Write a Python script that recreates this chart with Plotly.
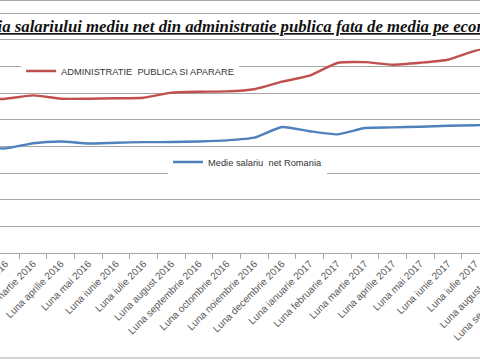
import plotly.graph_objects as go

months = ["Luna ianuarie 2016", "Luna februarie 2016", "Luna martie 2016", "Luna aprilie 2016",
          "Luna mai 2016", "Luna iunie 2016", "Luna iulie 2016", "Luna august 2016",
          "Luna septembrie 2016", "Luna octombrie 2016", "Luna noiembrie 2016", "Luna decembrie 2016",
          "Luna ianuarie 2017", "Luna februarie 2017", "Luna martie 2017", "Luna aprilie 2017",
          "Luna mai 2017", "Luna iunie 2017", "Luna iulie 2017", "Luna august 2017"]
# category labels beyond the cropped right edge (only partly visible)
cut_labels = ["Luna august 2017", "Luna septembrie 2017"]
cut_label_index = [19, 20]

admin_publica = [2865, 2893, 2955, 2893, 2893, 2901, 2912, 3006, 3024, 3030, 3071, 3212,
                 3324, 3563, 3578, 3531, 3568, 3624, 3793, 3906]
medie_romania = [1984, 1961, 2059, 2091, 2053, 2068, 2078, 2081, 2091, 2111, 2162, 2363,
                 2284, 2224, 2344, 2355, 2368, 2387, 2396, 2406]

name_admin = "ADMINISTRATIE\u00a0 PUBLICA SI APARARE"
name_medie = "Medie salariu\u00a0 net Romania"
title_text = "Evolutia salariului mediu net din administratie publica fata de media pe economie"

# visible window of the category axis (chart is cropped on both sides)
x_range = [0.801, 18.163]
y_range = [0, 4725]

grid = "#a6a6a6"
tick_font = dict(family="Liberation Sans", size=10, color="#595959")

fig = go.Figure()
fig.add_trace(go.Scatter(x=months, y=admin_publica, name=name_admin, mode="lines",
                         line=dict(color="#C0504D", width=2.4, shape="spline", smoothing=0.5),
                         legend="legend"))
fig.add_trace(go.Scatter(x=months, y=medie_romania, name=name_medie, mode="lines",
                         line=dict(color="#4F81BD", width=2.4, shape="spline", smoothing=0.5),
                         legend="legend2"))

annotations = [dict(text=title_text, xref="paper", yref="paper", x=0.490, y=0.897,
                    xanchor="center", yanchor="middle", showarrow=False,
                    font=dict(family="Liberation Serif", size=16.75, color="#111111",
                              weight="bold", style="italic", lineposition="under"))]
span = x_range[1] - x_range[0]
for lab, idx in zip(cut_labels, cut_label_index):
    annotations.append(dict(text=lab, xref="paper", yref="paper",
                            x=(idx - x_range[0]) / span + 0.004, y=-0.035,
                            xanchor="right", yanchor="top", textangle=-45, showarrow=False,
                            font=tick_font))

fig.update_layout(
    width=480, height=360,
    margin=dict(l=0, r=0, t=1, b=107, autoexpand=False),
    paper_bgcolor="white", plot_bgcolor="white",
    showlegend=True,
    legend=dict(x=0.044, y=0.722, xanchor="left", yanchor="middle", bgcolor="white",
                font=dict(family="Liberation Sans", size=9.3, color="#333333"),
                itemwidth=30),
    legend2=dict(x=0.35, y=0.361, xanchor="left", yanchor="middle", bgcolor="white",
                 font=dict(family="Liberation Sans", size=9.3, color="#333333"),
                 itemwidth=30),
    xaxis=dict(type="category", range=x_range, automargin=False, showgrid=False,
               showline=True, linecolor=grid, linewidth=1, mirror=True,
               ticks="outside", ticklen=5, tickcolor=grid,
               tickson="boundaries", tickangle=-45, tickfont=tick_font),
    yaxis=dict(range=y_range, dtick=500, automargin=False, showgrid=True, gridcolor=grid,
               gridwidth=1, zeroline=False, showticklabels=False, showline=False),
    annotations=annotations,
    shapes=[dict(type="line", xref="paper", yref="paper", x0=0, x1=1, y0=-0.4167, y1=-0.4167,
                 line=dict(color=grid, width=1))],
)

fig.write_html("out.html", config={"displayModeBar": False},
               post_script="document.body.style.margin='0px';")
